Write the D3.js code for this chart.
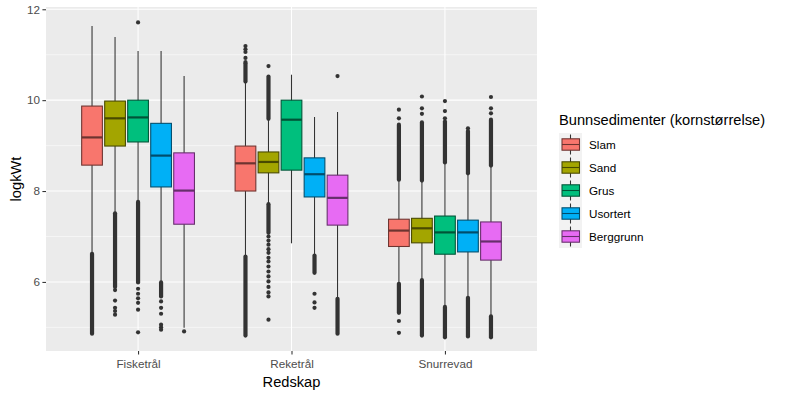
<!DOCTYPE html>
<html>
  <head>
    <meta http-equiv="Content-Type" content="text/html;charset=utf-8"/>
    <title>logkWt etter redskap</title>
    <script src="https://d3js.org/d3.v7.min.js"></script>
    <style>
      body { margin: 0; background: #fff; }
      text { font-family: "Liberation Sans", Arial, sans-serif; }
    </style>
  </head>
  <body>
    <script type="text/javascript">
      // categories
      const gear = ["Fisketrål", "Reketrål", "Snurrevad"]
      const sediments = ["Slam", "Sand", "Grus", "Usortert", "Berggrunn"]
      const fills = ["#F8766D", "#A3A500", "#00BF7D", "#00B0F6", "#E76BF3"]
      const yTicks = [6, 8, 10, 12]

      // box statistics, one row per gear, one column per sediment
      const whiskerLow = [[6.62, 7.51, 7.76, 5.99, 4.99], [6.56, 7.71, 6.85, 6.58, 5.63], [5.96, 6.04, 5.45, 5.65, 5.24]]
      const q1 =         [[8.57, 8.99, 9.08, 8.09, 7.27], [8.00, 8.40, 8.46, 7.87, 7.25], [6.78, 6.86, 6.61, 6.66, 6.48]]
      const median =     [[9.18, 9.60, 9.62, 8.78, 8.01], [8.61, 8.64, 9.57, 8.37, 7.85], [7.13, 7.18, 7.09, 7.09, 6.89]]
      const q3 =         [[9.87, 9.98, 10.00, 9.49, 8.84], [8.99, 8.86, 10.00, 8.73, 8.35], [7.38, 7.40, 7.45, 7.36, 7.32]]
      const whiskerHigh = [[11.63, 11.39, 11.08, 11.08, 10.53], [10.41, 9.59, 10.56, 9.63, 9.74], [8.25, 8.23, 8.63, 8.39, 8.56]]

      // dense runs of outliers: [gear, sediment, from, to]
      const outlierBands = [
        [0, 0, 4.86, 6.62], [0, 1, 5.89, 7.51], [0, 2, 5.99, 7.76], [0, 3, 5.68, 5.99],
        [1, 0, 10.41, 10.81], [1, 0, 4.82, 6.56], [1, 1, 9.59, 10.52], [1, 1, 7.08, 7.71],
        [1, 3, 6.20, 6.58], [1, 4, 4.86, 5.63],
        [2, 0, 8.25, 9.46], [2, 0, 5.32, 5.96], [2, 1, 8.23, 9.51], [2, 1, 4.82, 6.04],
        [2, 2, 8.63, 9.53], [2, 2, 4.78, 5.45], [2, 3, 8.39, 9.32], [2, 3, 4.80, 5.65],
        [2, 4, 8.56, 9.57], [2, 4, 4.78, 5.24]
      ]

      // single outliers: [gear, sediment, value]
      const outlierPoints = [
        [0, 1, 5.82], [0, 1, 5.59], [0, 1, 5.43], [0, 1, 5.36], [0, 1, 5.28],
        [0, 2, 11.71], [0, 2, 5.85], [0, 2, 5.74], [0, 2, 5.64], [0, 2, 5.54], [0, 2, 5.39], [0, 2, 4.89],
        [0, 3, 5.57], [0, 3, 5.43], [0, 3, 5.30], [0, 3, 5.06], [0, 3, 5.00], [0, 3, 4.95],
        [0, 4, 4.91],
        [1, 0, 11.19], [1, 0, 11.12], [1, 0, 11.06], [1, 0, 10.93], [1, 0, 10.84],
        [1, 1, 10.75], [1, 1, 7.00], [1, 1, 6.91], [1, 1, 6.82], [1, 1, 6.72], [1, 1, 6.64],
        [1, 1, 6.53], [1, 1, 6.45], [1, 1, 6.34], [1, 1, 6.23], [1, 1, 6.12], [1, 1, 6.01],
        [1, 1, 5.89], [1, 1, 5.77], [1, 1, 5.68], [1, 1, 5.17],
        [1, 3, 5.74], [1, 3, 5.55], [1, 3, 5.43],
        [1, 4, 10.53],
        [2, 0, 9.79], [2, 0, 9.60], [2, 0, 5.14], [2, 0, 4.88],
        [2, 1, 10.08], [2, 1, 9.82], [2, 1, 9.70],
        [2, 2, 9.98], [2, 2, 9.76], [2, 2, 9.60],
        [2, 3, 9.38],
        [2, 4, 10.07], [2, 4, 9.82], [2, 4, 9.71]
      ]

      const width = 786,
            height = 397
      const panel = { left: 46, right: 537, top: 7, bottom: 351 }

      const svg = d3.select("body").append("svg")
        .attr("width", width)
        .attr("height", height)

      const x = d3.scalePoint()
        .domain(gear)
        .range([panel.left, panel.right])
        .padding(0.6)

      const y = d3.scaleLinear()
        .domain([4.48, 12.05])
        .range([panel.bottom, panel.top])

      const slot = x.step() * 0.15
      const boxW = slot * 0.9
      const boxX = (g, s) => x(gear[g]) + (s - 2) * slot

      const color = d3.scaleOrdinal().domain(sediments).range(fills)
      const edge = c => d3.color(c).darker(2.3).formatHex()

      // panel and grid
      svg.append("rect")
        .attr("x", panel.left).attr("y", panel.top)
        .attr("width", panel.right - panel.left)
        .attr("height", panel.bottom - panel.top)
        .attr("fill", "#EBEBEB")

      const minor = [5, 7, 9, 11]
      svg.append("g").selectAll("line").data(minor).join("line")
        .attr("x1", panel.left).attr("x2", panel.right)
        .attr("y1", d => y(d)).attr("y2", d => y(d))
        .attr("stroke", "#fff").attr("stroke-width", 0.53)

      svg.append("g").selectAll("line").data(yTicks).join("line")
        .attr("x1", panel.left).attr("x2", panel.right)
        .attr("y1", d => y(d)).attr("y2", d => y(d))
        .attr("stroke", "#fff").attr("stroke-width", 1.07)

      svg.append("g").selectAll("line").data(gear).join("line")
        .attr("x1", d => x(d)).attr("x2", d => x(d))
        .attr("y1", panel.top).attr("y2", panel.bottom)
        .attr("stroke", "#fff").attr("stroke-width", 1.07)

      // boxes
      const boxes = []
      gear.forEach((g, gi) => sediments.forEach((s, si) => boxes.push({ gi, si, s })))

      const box = svg.append("g").selectAll("g").data(boxes).join("g")

      box.append("line")
        .attr("x1", d => boxX(d.gi, d.si)).attr("x2", d => boxX(d.gi, d.si))
        .attr("y1", d => y(whiskerLow[d.gi][d.si]))
        .attr("y2", d => y(whiskerHigh[d.gi][d.si]))
        .attr("stroke", "#333").attr("stroke-width", 1.07)

      box.append("rect")
        .attr("x", d => boxX(d.gi, d.si) - boxW / 2)
        .attr("width", boxW)
        .attr("y", d => y(q3[d.gi][d.si]))
        .attr("height", d => y(q1[d.gi][d.si]) - y(q3[d.gi][d.si]))
        .attr("fill", d => color(d.s))
        .attr("stroke", d => edge(color(d.s)))
        .attr("stroke-width", 1.07)

      box.append("line")
        .attr("x1", d => boxX(d.gi, d.si) - boxW / 2)
        .attr("x2", d => boxX(d.gi, d.si) + boxW / 2)
        .attr("y1", d => y(median[d.gi][d.si]))
        .attr("y2", d => y(median[d.gi][d.si]))
        .attr("stroke", d => edge(color(d.s)))
        .attr("stroke-width", 2.2)

      // outliers
      const r = 2.1
      svg.append("g").selectAll("rect").data(outlierBands).join("rect")
        .attr("x", d => boxX(d[0], d[1]) - r)
        .attr("width", 2 * r)
        .attr("y", d => y(d[3]) - r)
        .attr("height", d => y(d[2]) - y(d[3]) + 2 * r)
        .attr("rx", r).attr("ry", r)
        .attr("fill", "#333")

      svg.append("g").selectAll("circle").data(outlierPoints).join("circle")
        .attr("cx", d => boxX(d[0], d[1]))
        .attr("cy", d => y(d[2]))
        .attr("r", r)
        .attr("fill", "#333")

      // axes
      const yAxis = svg.append("g")
        .attr("transform", `translate(${panel.left},0)`)
        .call(d3.axisLeft(y).tickValues(yTicks).tickSize(3.6).tickPadding(2.5).tickFormat(d3.format("d")))
      const xAxis = svg.append("g")
        .attr("transform", `translate(0,${panel.bottom})`)
        .call(d3.axisBottom(x).tickSize(3.6).tickPadding(5))

      ;[yAxis, xAxis].forEach(a => {
        a.select(".domain").remove()
        a.selectAll(".tick line").attr("stroke", "#333").attr("stroke-width", 1.07)
        a.selectAll(".tick text")
          .attr("fill", "#4D4D4D")
          .style("font-size", "11.7px")
          .style("font-family", '"Liberation Sans", Arial, sans-serif')
      })

      svg.append("text")
        .attr("x", (panel.left + panel.right) / 2)
        .attr("y", 387)
        .attr("text-anchor", "middle")
        .style("font-size", "14.67px")
        .text("Redskap")

      svg.append("text")
        .attr("transform", `translate(21,${(panel.top + panel.bottom) / 2}) rotate(-90)`)
        .attr("text-anchor", "middle")
        .style("font-size", "14.67px")
        .text("logkWt")

      // legend
      const legend = svg.append("g")
      legend.append("text")
        .attr("x", 559).attr("y", 125)
        .style("font-size", "14.67px")
        .text("Bunnsedimenter (kornstørrelse)")

      const keyH = 23, keyTop = 133
      legend.append("rect")
        .attr("x", 559).attr("y", keyTop)
        .attr("width", 23).attr("height", keyH * sediments.length)
        .attr("fill", "#F2F2F2")

      const key = legend.selectAll("g.key").data(sediments).join("g")
        .attr("class", "key")
        .attr("transform", (d, i) => `translate(559,${keyTop + i * keyH})`)

      key.append("line")
        .attr("x1", 11.5).attr("x2", 11.5)
        .attr("y1", 1.5).attr("y2", keyH - 1.5)
        .attr("stroke", "#333").attr("stroke-width", 1.07)
      key.append("rect")
        .attr("x", 3).attr("width", 17.5)
        .attr("y", keyH / 2 - 5.7).attr("height", 11.4)
        .attr("fill", d => color(d))
        .attr("stroke", d => edge(color(d)))
        .attr("stroke-width", 1.07)
      key.append("line")
        .attr("x1", 3).attr("x2", 20.5)
        .attr("y1", keyH / 2).attr("y2", keyH / 2)
        .attr("stroke", d => edge(color(d)))
        .attr("stroke-width", 1.07)
      key.append("text")
        .attr("x", 30).attr("y", keyH / 2 + 4.2)
        .style("font-size", "11.7px")
        .text(d => d)
    </script>
  </body>
</html>
